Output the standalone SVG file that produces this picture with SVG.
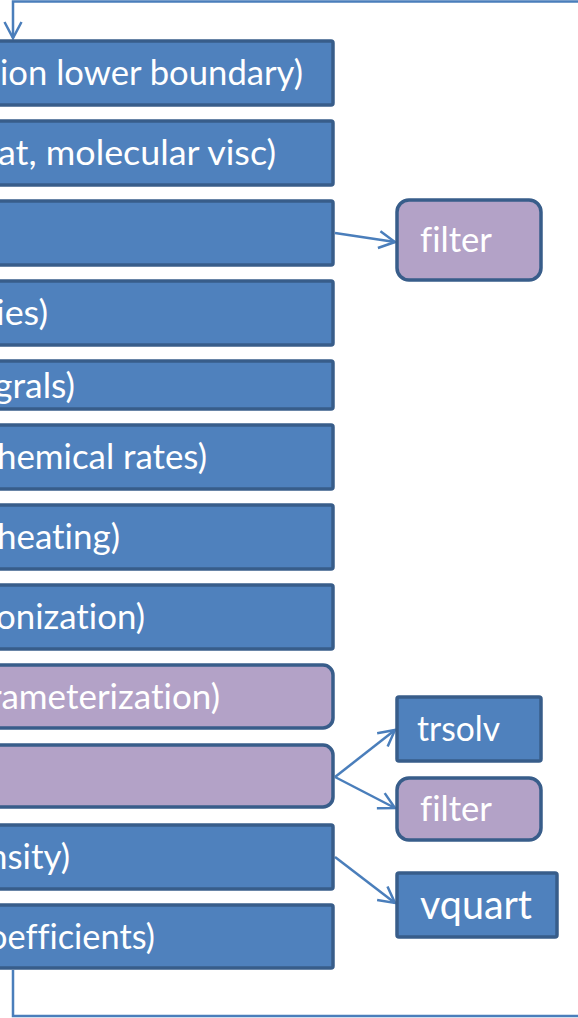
<svg xmlns="http://www.w3.org/2000/svg" width="578" height="1018" viewBox="0 0 578 1018">
<defs>
<style>
.blue{fill:#4f81bd;stroke:#385d8a;stroke-width:3.5}
.purple{fill:#b3a2c7;stroke:#385d8a;stroke-width:3.5}
.t{font-family:Lato,"Open Sans","Liberation Sans",sans-serif;font-size:35px;fill:#ffffff;font-variant-ligatures:none;font-feature-settings:"liga" 0,"dlig" 0}
.te{text-anchor:end}
.conn{fill:none;stroke:#4a7ebb;stroke-width:2.5}
</style>
<marker id="arr" markerUnits="userSpaceOnUse" viewBox="0 0 20 20" refX="17" refY="10" markerWidth="20" markerHeight="20" orient="auto">
<path d="M1,1.5 L17,10 L1,18.5" fill="none" stroke="#4a7ebb" stroke-width="2.5"/>
</marker>
</defs>
<g id="connectors">
<polyline class="conn" points="580,1.5 13,1.5 13,38" marker-end="url(#arr)"/>
<polyline class="conn" points="13,970 13,1016 580,1016"/>
<line class="conn" x1="335" y1="233" x2="395" y2="242" marker-end="url(#arr)"/>
<line class="conn" x1="335" y1="777" x2="395" y2="730" marker-end="url(#arr)"/>
<line class="conn" x1="335" y1="777" x2="395" y2="808" marker-end="url(#arr)"/>
<line class="conn" x1="335" y1="857" x2="395" y2="903" marker-end="url(#arr)"/>
</g>
<g id="n1"><rect class="blue" x="-10" y="41" width="343" height="64" rx="2"/><text class="t te" x="303" y="85" textLength="303" lengthAdjust="spacingAndGlyphs">ion lower boundary)</text></g>
<g id="n2"><rect class="blue" x="-10" y="121" width="343" height="64" rx="2"/><text class="t te" x="276" y="165" textLength="278" lengthAdjust="spacingAndGlyphs">at, molecular visc)</text></g>
<g id="n3"><rect class="blue" x="-10" y="201" width="343" height="64" rx="2"/></g>
<g id="n4"><rect class="blue" x="-10" y="281" width="343" height="64" rx="2"/><text class="t te" x="48" y="325" textLength="52" lengthAdjust="spacingAndGlyphs">ies)</text></g>
<g id="n5"><rect class="blue" x="-10" y="361" width="343" height="48" rx="2"/><text class="t te" x="75" y="398" textLength="81" lengthAdjust="spacingAndGlyphs">grals)</text></g>
<g id="n6"><rect class="blue" x="-10" y="425" width="343" height="64" rx="2"/><text class="t te" x="207" y="469" textLength="210" lengthAdjust="spacingAndGlyphs">hemical rates)</text></g>
<g id="n7"><rect class="blue" x="-10" y="505" width="343" height="64" rx="2"/><text class="t te" x="120" y="549" textLength="123" lengthAdjust="spacingAndGlyphs">heating)</text></g>
<g id="n8"><rect class="blue" x="-10" y="585" width="343" height="64" rx="2"/><text class="t te" x="145" y="629" textLength="149" lengthAdjust="spacingAndGlyphs">onization)</text></g>
<g id="n9"><rect class="purple" x="-10" y="665" width="343" height="63" rx="10"/><text class="t te" x="220" y="709" textLength="231" lengthAdjust="spacingAndGlyphs">rameterization)</text></g>
<g id="n10"><rect class="purple" x="-10" y="745" width="343" height="62" rx="10"/></g>
<g id="n11"><rect class="blue" x="-10" y="825" width="343" height="64" rx="2"/><text class="t te" x="70" y="869" textLength="82" lengthAdjust="spacingAndGlyphs">nsity)</text></g>
<g id="n12"><rect class="blue" x="-10" y="905" width="343" height="63" rx="2"/><text class="t te" x="155" y="949" textLength="167" lengthAdjust="spacingAndGlyphs">oefficients)</text></g>
<g id="filter1"><rect class="purple" x="397" y="200" width="144" height="80" rx="12"/><text class="t" x="420" y="252" textLength="72" lengthAdjust="spacingAndGlyphs">filter</text></g>
<g id="trsolv"><rect class="blue" x="397" y="697" width="144" height="64" rx="2"/><text class="t" x="417" y="741" textLength="83" lengthAdjust="spacingAndGlyphs">trsolv</text></g>
<g id="filter2"><rect class="purple" x="397" y="778" width="144" height="62" rx="12"/><text class="t" x="420" y="821" textLength="72" lengthAdjust="spacingAndGlyphs">filter</text></g>
<g id="vquart"><rect class="blue" x="397" y="873" width="160" height="64" rx="2"/><text class="t" x="420" y="919" style="font-size:41px" textLength="112" lengthAdjust="spacingAndGlyphs">vquart</text></g>
</svg>
